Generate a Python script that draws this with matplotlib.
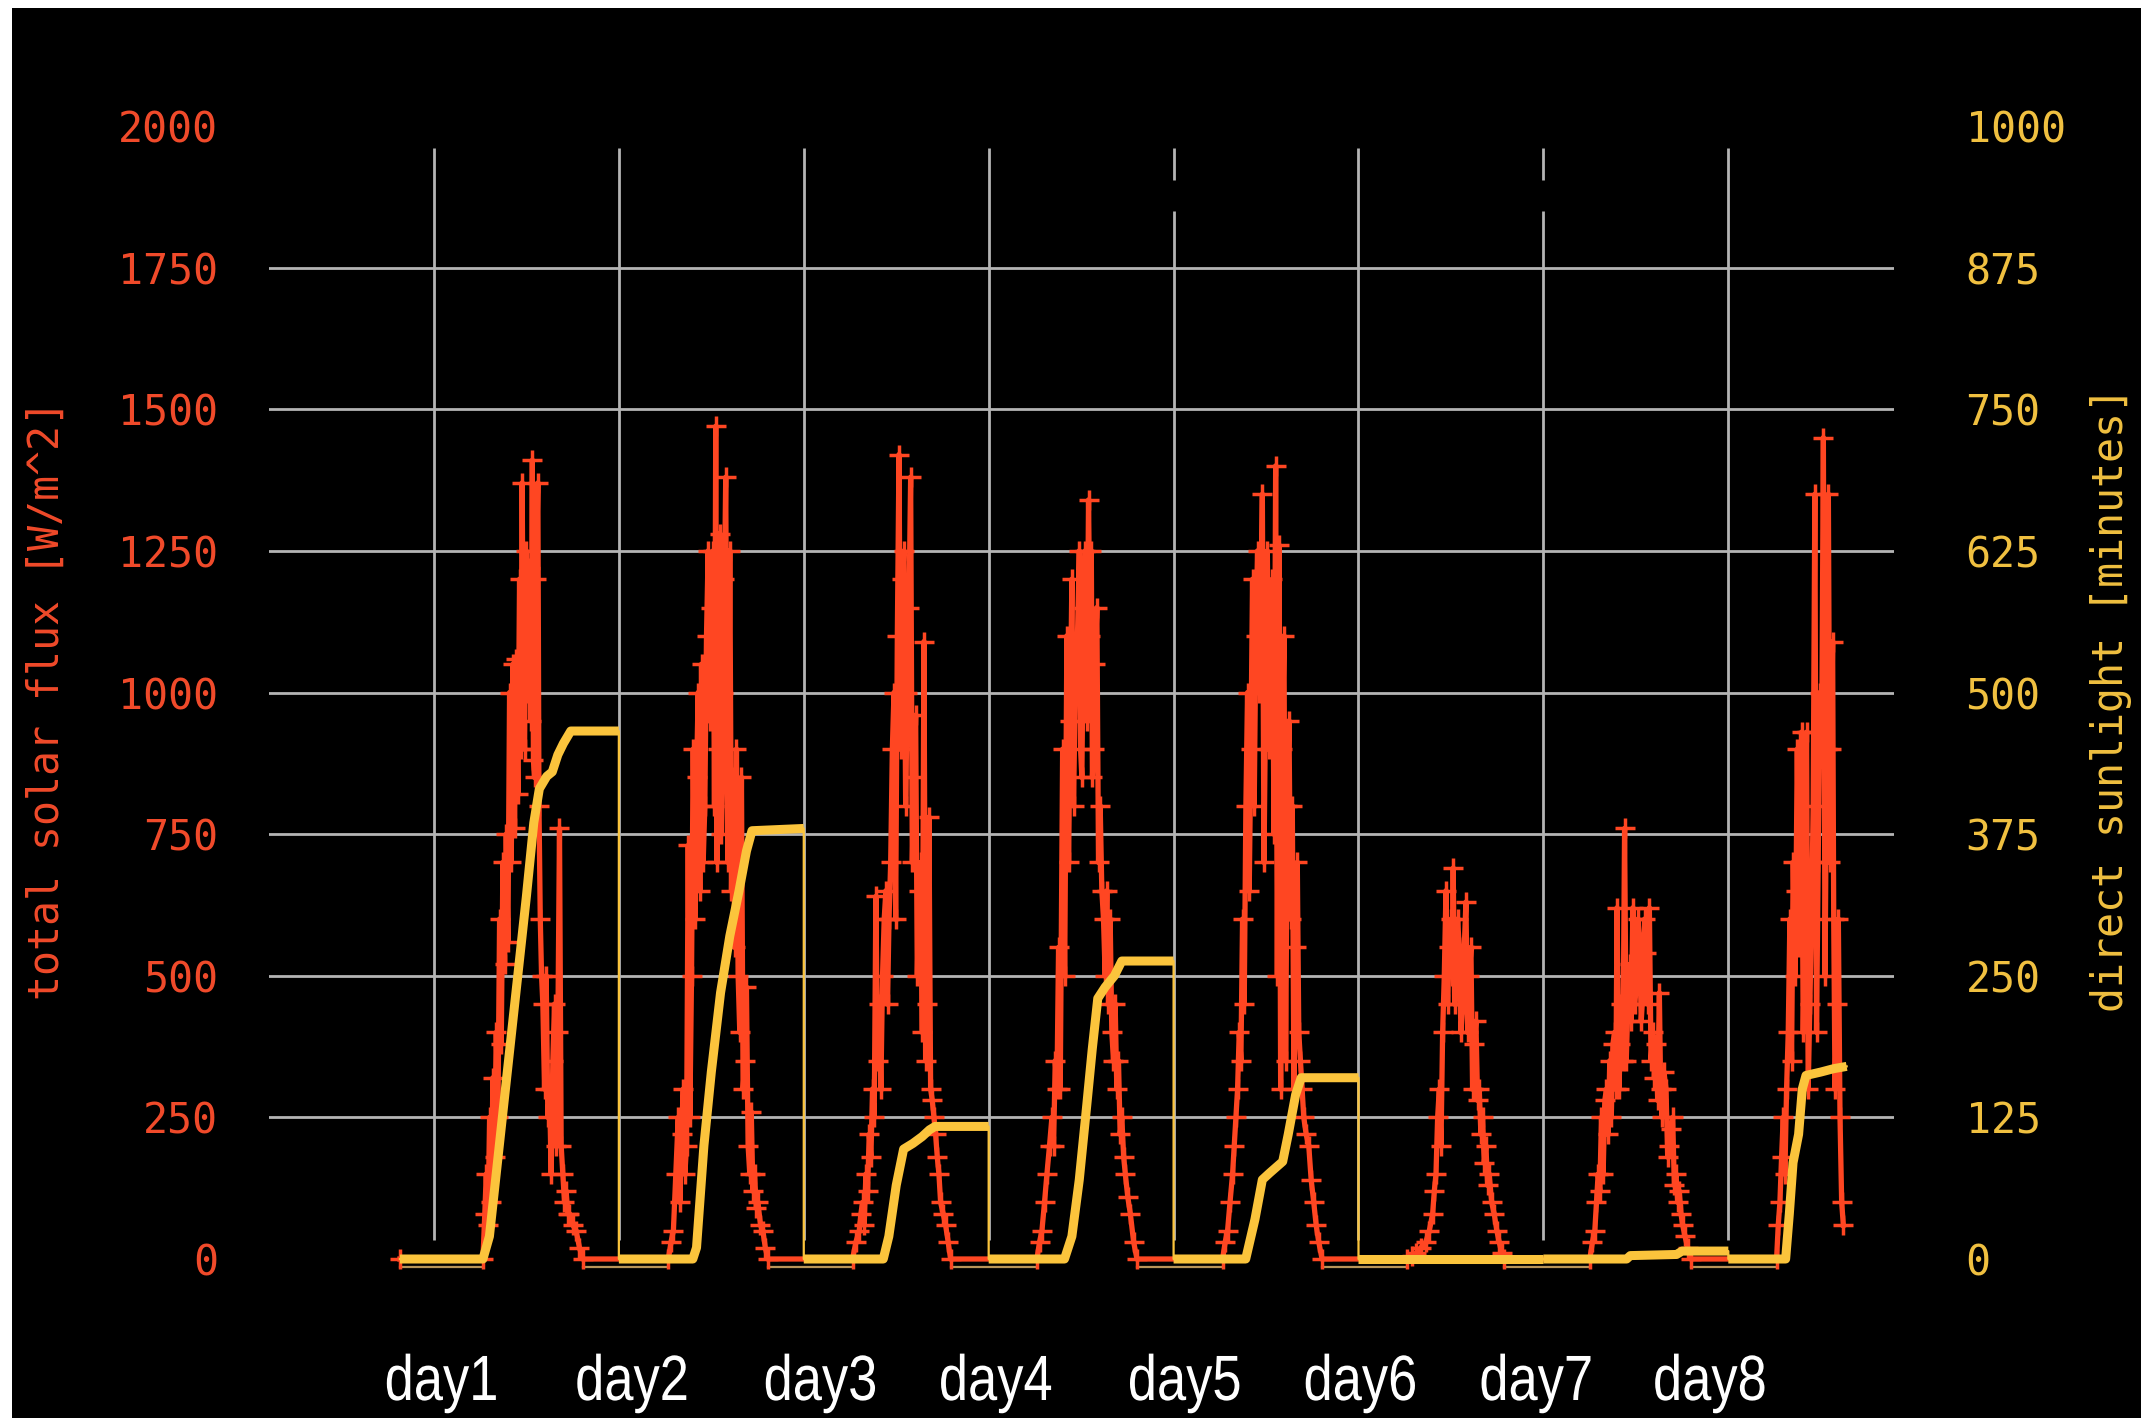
import matplotlib
matplotlib.use("Agg")
import matplotlib.pyplot as plt
from matplotlib.patches import Rectangle, PathPatch
from matplotlib.transforms import Affine2D, IdentityTransform
from matplotlib.textpath import TextPath
from matplotlib.font_manager import FontProperties

# time axis is in days, gridline k = start of day k
data_start = 0.816

# total solar flux [W/m^2], (time, value) per daylight period
flux_day1 = [(1.265, 0), (1.275, 80), (1.283, 150), (1.292, 60), (1.301, 250), (1.310, 100),
             (1.319, 320), (1.328, 180), (1.337, 400), (1.346, 250), (1.355, 600), (1.364, 380),
             (1.373, 700), (1.382, 520), (1.391, 750), (1.400, 560), (1.409, 1000), (1.418, 700),
             (1.427, 1050), (1.436, 760), (1.445, 1060), (1.454, 820), (1.463, 1200), (1.470, 900),
             (1.477, 1370), (1.484, 1000), (1.490, 900), (1.499, 1250), (1.508, 1000), (1.517, 1220),
             (1.525, 950), (1.532, 1410), (1.538, 880), (1.544, 850), (1.553, 1200), (1.562, 1370),
             (1.568, 800), (1.575, 600), (1.582, 500), (1.589, 450), (1.598, 300), (1.607, 500),
             (1.616, 250), (1.625, 300), (1.634, 150), (1.643, 350), (1.652, 450), (1.661, 200),
             (1.670, 400), (1.679, 760), (1.688, 200), (1.697, 150), (1.706, 100), (1.715, 120),
             (1.724, 80), (1.733, 80), (1.751, 60), (1.769, 50), (1.787, 20), (1.805, 0)]
flux_day2 = [(2.268, 0), (2.282, 30), (2.295, 50), (2.308, 150), (2.321, 250), (2.330, 100),
             (2.339, 220), (2.348, 300), (2.357, 150), (2.366, 200), (2.375, 730), (2.384, 250),
             (2.393, 500), (2.402, 900), (2.411, 600), (2.420, 850), (2.429, 1000), (2.438, 650),
             (2.447, 1050), (2.456, 700), (2.465, 800), (2.474, 1100), (2.483, 1250), (2.492, 950),
             (2.501, 1150), (2.510, 1250), (2.517, 800), (2.524, 1470), (2.530, 700), (2.537, 900),
             (2.546, 1280), (2.555, 750), (2.564, 1000), (2.571, 1200), (2.578, 1380), (2.585, 850),
             (2.591, 700), (2.600, 1250), (2.609, 650), (2.618, 850), (2.627, 550), (2.636, 900),
             (2.645, 500), (2.654, 400), (2.663, 850), (2.672, 300), (2.681, 350), (2.690, 480),
             (2.699, 200), (2.708, 150), (2.716, 260), (2.725, 120), (2.734, 150), (2.743, 90),
             (2.752, 100), (2.766, 60), (2.779, 50), (2.792, 20), (2.806, 0)]
flux_day3 = [(3.264, 0), (3.282, 30), (3.300, 50), (3.309, 80), (3.318, 100), (3.327, 60),
             (3.336, 150), (3.345, 120), (3.354, 220), (3.363, 180), (3.372, 300), (3.381, 250),
             (3.390, 640), (3.399, 350), (3.408, 450), (3.417, 300), (3.426, 500), (3.435, 600),
             (3.444, 650), (3.453, 450), (3.461, 600), (3.470, 700), (3.479, 900), (3.488, 1000),
             (3.497, 600), (3.506, 1100), (3.515, 1420), (3.524, 900), (3.533, 1200), (3.542, 1250),
             (3.551, 800), (3.560, 1000), (3.569, 1150), (3.578, 1380), (3.587, 700), (3.596, 850),
             (3.605, 960), (3.614, 500), (3.623, 650), (3.632, 700), (3.641, 400), (3.650, 1090),
             (3.659, 350), (3.668, 450), (3.677, 780), (3.686, 300), (3.695, 280), (3.704, 250),
             (3.713, 220), (3.722, 180), (3.731, 150), (3.740, 100), (3.754, 80), (3.767, 60),
             (3.781, 30), (3.794, 0)]
flux_day4 = [(4.261, 0), (4.275, 30), (4.288, 50), (4.302, 100), (4.315, 150), (4.329, 200),
             (4.342, 250), (4.351, 200), (4.360, 350), (4.369, 300), (4.378, 550), (4.387, 300),
             (4.400, 900), (4.411, 500), (4.423, 1100), (4.432, 700), (4.441, 950), (4.450, 1200),
             (4.459, 800), (4.468, 1000), (4.477, 1050), (4.490, 1250), (4.497, 900), (4.504, 850),
             (4.513, 1150), (4.522, 1250), (4.531, 950), (4.540, 1340), (4.548, 1100), (4.555, 1250),
             (4.561, 850), (4.567, 900), (4.576, 1050), (4.585, 1150), (4.594, 700), (4.603, 800),
             (4.612, 650), (4.621, 600), (4.630, 500), (4.639, 650), (4.648, 450), (4.657, 600),
             (4.666, 400), (4.675, 350), (4.684, 450), (4.693, 300), (4.702, 350), (4.711, 220),
             (4.720, 250), (4.730, 180), (4.739, 150), (4.752, 110), (4.766, 80), (4.784, 30),
             (4.802, 0)]
flux_day5 = [(5.265, 0), (5.279, 30), (5.292, 50), (5.305, 100), (5.319, 150), (5.328, 200),
             (5.337, 250), (5.346, 300), (5.355, 400), (5.364, 350), (5.373, 600), (5.382, 450),
             (5.391, 800), (5.400, 1000), (5.409, 650), (5.418, 900), (5.427, 1200), (5.436, 800),
             (5.445, 1100), (5.454, 1250), (5.462, 1000), (5.471, 1150), (5.480, 1350), (5.489, 700),
             (5.498, 1000), (5.507, 1250), (5.516, 900), (5.525, 1100), (5.534, 1200), (5.543, 750),
             (5.552, 1400), (5.561, 500), (5.570, 1260), (5.579, 300), (5.588, 900), (5.597, 1100),
             (5.606, 350), (5.615, 800), (5.624, 950), (5.633, 600), (5.642, 800), (5.651, 300),
             (5.660, 550), (5.669, 700), (5.677, 400), (5.686, 350), (5.695, 300), (5.704, 250),
             (5.717, 220), (5.731, 200), (5.744, 140), (5.758, 100), (5.771, 60), (5.785, 30),
             (5.803, 0)]
flux_day6 = [(6.265, 0), (6.288, 5), (6.310, 10), (6.337, 20), (6.364, 30), (6.383, 50),
             (6.401, 80), (6.410, 120), (6.419, 150), (6.428, 250), (6.437, 300), (6.446, 200),
             (6.455, 400), (6.464, 500), (6.473, 650), (6.482, 450), (6.491, 550), (6.500, 600),
             (6.506, 500), (6.512, 690), (6.520, 450), (6.527, 500), (6.536, 600), (6.545, 550),
             (6.554, 400), (6.563, 450), (6.572, 550), (6.581, 630), (6.590, 400), (6.599, 500),
             (6.608, 550), (6.617, 300), (6.626, 380), (6.635, 420), (6.644, 280), (6.653, 300),
             (6.662, 220), (6.671, 250), (6.680, 170), (6.689, 200), (6.698, 130), (6.707, 150),
             (6.720, 100), (6.734, 80), (6.748, 50), (6.761, 30), (6.775, 10), (6.789, 0)]
flux_day7 = [(7.251, 0), (7.265, 30), (7.278, 50), (7.287, 100), (7.296, 150), (7.305, 120),
             (7.314, 250), (7.323, 150), (7.332, 280), (7.341, 300), (7.350, 220), (7.359, 350),
             (7.367, 250), (7.376, 380), (7.385, 400), (7.392, 300), (7.398, 620), (7.409, 300),
             (7.415, 380), (7.421, 450), (7.430, 350), (7.439, 760), (7.448, 350), (7.457, 450),
             (7.466, 520), (7.475, 420), (7.484, 620), (7.493, 450), (7.502, 480), (7.511, 600),
             (7.520, 560), (7.529, 420), (7.538, 470), (7.547, 600), (7.556, 540), (7.564, 450),
             (7.573, 620), (7.582, 350), (7.591, 400), (7.600, 320), (7.609, 380), (7.618, 280),
             (7.627, 470), (7.634, 300), (7.642, 250), (7.652, 330), (7.663, 300), (7.672, 180),
             (7.681, 200), (7.690, 230), (7.699, 250), (7.708, 130), (7.717, 150), (7.726, 100),
             (7.735, 120), (7.744, 80), (7.753, 60), (7.766, 40), (7.780, 20), (7.798, 0)]
flux_day8 = [(8.261, 0), (8.270, 60), (8.279, 100), (8.288, 180), (8.297, 250), (8.306, 150),
             (8.315, 300), (8.324, 400), (8.333, 600), (8.342, 350), (8.351, 700), (8.360, 500),
             (8.366, 650), (8.373, 900), (8.384, 550), (8.390, 700), (8.396, 930), (8.405, 400),
             (8.414, 600), (8.423, 930), (8.432, 300), (8.441, 450), (8.450, 600), (8.459, 800),
             (8.468, 1350), (8.477, 400), (8.486, 700), (8.495, 1000), (8.505, 900), (8.514, 1450),
             (8.523, 500), (8.532, 900), (8.541, 1350), (8.550, 700), (8.557, 900), (8.564, 1090),
             (8.570, 600), (8.577, 300), (8.586, 450), (8.595, 600), (8.604, 250), (8.613, 100),
             (8.622, 60)]
flux_days = [flux_day1, flux_day2, flux_day3, flux_day4,
             flux_day5, flux_day6, flux_day7, flux_day8]

# direct sunlight [minutes], cumulative for each day, (time, minutes)
sun_day1 = [(0.816, 0), (1.265, 0), (1.30, 20), (1.35, 95), (1.40, 170), (1.45, 245),
            (1.50, 320), (1.54, 385), (1.57, 415), (1.61, 426), (1.64, 430), (1.67, 445),
            (1.70, 455), (1.74, 466), (2.0, 466)]
sun_day2 = [(2.0, 0), (2.40, 0), (2.42, 10), (2.46, 100), (2.50, 165), (2.55, 235),
            (2.60, 285), (2.65, 325), (2.69, 360), (2.72, 378), (3.0, 380)]
sun_day3 = [(3.0, 0), (3.43, 0), (3.46, 20), (3.50, 65), (3.54, 97), (3.59, 102),
            (3.64, 108), (3.68, 114), (3.71, 117), (4.0, 117)]
sun_day4 = [(4.0, 0), (4.41, 0), (4.45, 20), (4.49, 70), (4.53, 135), (4.56, 185),
            (4.59, 230), (4.63, 240), (4.68, 250), (4.72, 263), (5.0, 263)]
sun_day5 = [(5.0, 0), (5.39, 0), (5.44, 35), (5.48, 70), (5.52, 76), (5.59, 86),
            (5.62, 110), (5.66, 145), (5.69, 160), (6.0, 160)]
sun_day6 = [(6.0, 0), (7.0, 0)]
sun_day7 = [(7.0, 0), (7.45, 0), (7.47, 3), (7.72, 4), (7.75, 7), (8.0, 7)]
sun_day8 = [(8.0, 0), (8.31, 0), (8.33, 40), (8.35, 85), (8.38, 110), (8.40, 150),
            (8.42, 162), (8.50, 165), (8.57, 168), (8.64, 170)]
sun_days = [sun_day1, sun_day2, sun_day3, sun_day4,
            sun_day5, sun_day6, sun_day7, sun_day8]

day_labels = ["day1", "day2", "day3", "day4", "day5", "day6", "day7", "day8"]
day_label_pos = [1.04, 2.07, 3.09, 4.04, 5.06, 6.01, 6.96, 7.90]

flux_ticks = [0, 250, 500, 750, 1000, 1250, 1500, 1750, 2000]
sun_ticks = [0, 125, 250, 375, 500, 625, 750, 875, 1000]
grid_days = [1, 2, 3, 4, 5, 6, 7, 8]
grid_flux = [250, 500, 750, 1000, 1250, 1500, 1750]

red = "#ff4622"
red_txt = "#f04a2a"
yel = "#fbc43c"
yel_txt = "#f0c040"
grid_col = "#b4b4b4"
tan = "#b89458"

W, H = 2141, 1418
plt.rcParams["font.family"] = ["DejaVu Sans Mono"]

fig = plt.figure(figsize=(W / 100, H / 100), dpi=100)
fig.patch.set_facecolor("white")
fig.patches.append(Rectangle((12 / W, 0), 1, 1 - 8 / H, transform=fig.transFigure,
                             facecolor="black", edgecolor="none", zorder=-10))

ax = fig.add_axes([269 / W, 1 - 1259 / H, (1894 - 269) / W, (1259 - 126) / H])
ax.set_facecolor("black")
for s in ax.spines.values():
    s.set_visible(False)
ax.set_xlim(0.108, 8.896)
ax.set_ylim(0, 2000)

# grid lines (vertical ones don't reach the frame, two have a small gap near the top)
for g in grid_flux:
    ax.axhline(g, color=grid_col, lw=2, zorder=1)
for d in grid_days:
    if d in (5, 7):
        ax.vlines(d, 33, 1850, color=grid_col, lw=2, zorder=1)
        ax.vlines(d, 1905, 1962, color=grid_col, lw=2, zorder=1)
    else:
        ax.vlines(d, 33, 1962, color=grid_col, lw=2, zorder=1)

# faint line just below zero during the nights
sunrise = [day[0][0] for day in flux_days]
sunset = [day[-1][0] for day in flux_days]
nights = [(data_start, sunrise[0])] + [(sunset[i], sunrise[i + 1]) for i in range(7)]
for a, b in nights:
    ax.plot([a, b], [-15, -15], color=tan, lw=1.6, clip_on=False, zorder=2)

# solar flux
ft = [data_start]
fv = [0]
for day in flux_days:
    ft += [p[0] for p in day]
    fv += [p[1] for p in day]
ax.plot(ft, fv, color=red, lw=3.8, marker="+", ms=15, mew=2.5, clip_on=False, zorder=3)

ax.set_xticks([])
ax.set_yticks(flux_ticks)
ax.set_yticklabels([str(v) for v in flux_ticks])
ax.tick_params(axis="y", length=0, pad=36.5, labelcolor=red_txt, labelsize=30)

# direct sunlight on the right axis
ax2 = ax.twinx()
for s in ax2.spines.values():
    s.set_visible(False)
ax2.set_ylim(0, 1000)
all_t = []
all_v = []
for day in sun_days:
    t = [p[0] for p in day]
    v = [p[1] for p in day]
    ax2.plot(t, v, color=yel, lw=6.5, clip_on=False, solid_capstyle="butt", zorder=4)
    all_t += t
    all_v += v
ax2.plot(all_t, all_v, color=yel, lw=1.6, clip_on=False, zorder=4)
ax2.set_yticks(sun_ticks)
ax2.set_yticklabels([str(v) for v in sun_ticks])
ax2.tick_params(axis="y", length=0, pad=51.5, labelcolor=yel_txt, labelsize=30)
for lbl in ax2.get_yticklabels():
    lbl.set_horizontalalignment("left")

fig.text(47 / W, 1 - 700 / H, "total solar flux [W/m^2]", rotation=90, color=red_txt,
         fontsize=30, ha="center", va="center")
fig.text(2111 / W, 1 - 700 / H, "direct sunlight [minutes]", rotation=90, color=yel_txt,
         fontsize=30, ha="center", va="center")

# day names: narrow sans text, drawn as condensed glyph outlines in pixel units
fp = FontProperties(family="Liberation Sans")
for pos, lab in zip(day_label_pos, day_labels):
    tp = TextPath((0, 0), lab, size=64, prop=fp)
    ext = tp.get_extents()
    xpix = ax.transData.transform((pos, 0))[0]
    tr = Affine2D().translate(-(ext.x0 + ext.x1) / 2, 0).scale(0.82, 1).translate(xpix, H - 1400)
    fig.add_artist(PathPatch(tr.transform_path(tp), facecolor="white", edgecolor="none",
                             transform=IdentityTransform()))

fig.savefig("out.png", dpi=100, facecolor=fig.get_facecolor())
